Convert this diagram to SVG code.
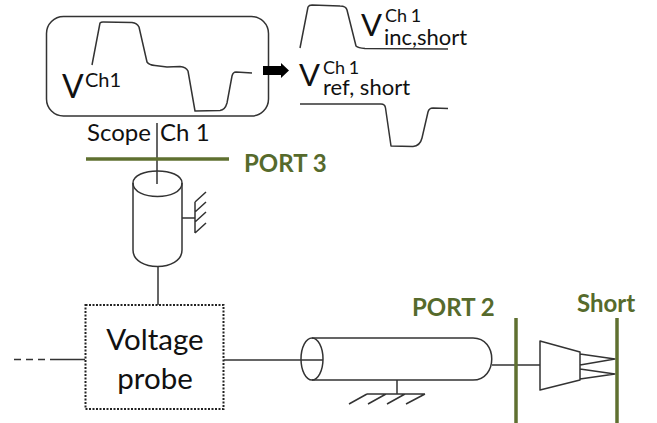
<svg xmlns="http://www.w3.org/2000/svg" width="657" height="423" viewBox="0 0 657 423">
<style>
.l{fill:none;stroke:#333;stroke-width:1.500;stroke-linejoin:round}
.g{fill:none;stroke:#5f7030;stroke-width:3.500}
text{font-family:Lato,"Liberation Sans",sans-serif;fill:#111}
.p{fill:#566a2c;font-weight:700;font-size:24px}
.v{font-size:31px}
.s{font-size:18px}
.b{font-size:22px}
</style>
<rect width="657" height="423" fill="#fff"/>
<g id="connectors">
<path class="l" d="M157 123V184M158 267V305M50 359.500H85M224 360H323M492 365H540"/>
<path class="l" d="M14 359.500H50" stroke-dasharray="7 5"/>
</g>
<g id="scope">
<rect class="l" x="46.500" y="16.500" width="222" height="99.500" rx="17"/>
<path class="l" d="M92 65L100 23Q101 22 103 22L132 22.500Q137 23 139 27L147 62Q149 65 155 65.500L167 67L180 66.500Q186 67 188 71L195 111L220 110.500Q225 110 227 103L232 76Q233 72 236 72L252 73"/>
<text x="62" y="98" font-size="32">V</text>
<text x="85" y="87" font-size="20">Ch1</text>
<text x="87" y="141" font-size="24">Scope <tspan dx="3">Ch 1</tspan></text>
</g>
<g id="arrow"><path d="M263 66H281V63L289 70.500L281 78V75H263Z" fill="#000"/></g>
<g id="incident">
<path class="l" d="M300 48L308 7Q309 5 312 5L340 6Q346 6 347 10L356 46Q358 48 365 48.500L448 49"/>
<text class="v" x="361" y="36">V</text>
<text class="s" x="385" y="22" word-spacing="-1">Ch 1</text>
<text class="b" x="384" y="45">inc,short</text>
</g>
<g id="reflected">
<path class="l" d="M300 104H381Q385 104 385.500 108L391 146L413 146.500Q420 146 422 138L428 112Q429 108 433 108L448 108.500"/>
<text class="v" x="299" y="86">V</text>
<text class="s" x="323" y="74" word-spacing="-1">Ch 1</text>
<text class="b" x="323" y="95">ref, short</text>
</g>
<g id="port3">
<path class="g" d="M86 159H229"/>
<text class="p" x="244" y="172">PORT 3</text>
</g>
<g id="connector-top">
<path class="l" d="M133 183C133 167 182 167 182 183V250C182 272 133 272 133 250Z"/>
<path class="l" d="M133 183C133 201 182 201 182 183"/>
<path class="l" d="M182 218H195M195 202V233M195 202L206 192M195 212L206 202M195 222L206 212M195 233L206 223"/>
</g>
<g id="voltage-probe">
<rect x="85.500" y="305" width="138" height="104" fill="none" stroke="#222" stroke-width="2" stroke-dasharray="2 1.500"/>
<text x="155" y="350" font-size="29.500" text-anchor="middle">Voltage</text>
<text x="155" y="389" font-size="29.500" text-anchor="middle">probe</text>
</g>
<g id="coax">
<path class="l" d="M312 338H473C498 338 498 380 473 380H312"/>
<ellipse class="l" cx="312" cy="359" rx="11" ry="21"/>
<path class="l" d="M397 380V394M367 394H425M349 404L367 394M368 404L386 394M387 404L405 394M406 404L425 394"/>
</g>
<g id="port2">
<path class="g" d="M516 318V423"/>
<text class="p" x="412" y="316">PORT 2</text>
</g>
<g id="probe-tip">
<path class="l" d="M540 341L580 352V380L540 390ZM580 354L615 359L580 365ZM580 369L615 374L580 379Z"/>
</g>
<g id="short">
<path class="g" d="M617 318V423"/>
<text class="p" x="577" y="312">Short</text>
</g>
</svg>
